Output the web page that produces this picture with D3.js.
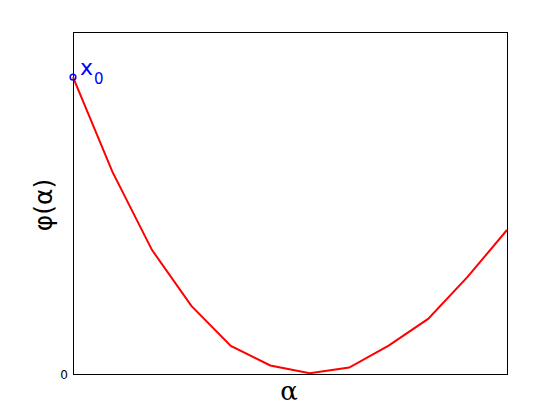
<!doctype html>
<html>
<head>
  <script src="https://d3js.org/d3.v7.min.js"></script>
  <style>
    body { margin: 0; background: #fff; }
  </style>
</head>
<body>
<script>
  // data: sampled alpha steps and phi(alpha) values (phi(0)=0 at the bottom)
  var alphaSteps = [0, 1, 2, 3, 4, 5, 6, 7, 8, 9, 10, 11];
  var phiValues = [0.868, 0.591, 0.363, 0.199, 0.082, 0.025, 0.002, 0.019, 0.083, 0.161, 0.284, 0.421];
  var yTicks = [0];
  var startPoint = [{a: 0, phi: 0.868}];

  var width = 560, height = 420;
  var margin = {left: 73, top: 32, right: 53, bottom: 46};

  var svg = d3.select("body").append("svg")
    .attr("width", width)
    .attr("height", height);

  var x = d3.scaleLinear().domain([0, 11]).range([margin.left, width - margin.right]);
  var y = d3.scaleLinear().domain([0, 1]).range([height - margin.bottom, margin.top]);

  // frame
  svg.append("rect")
    .attr("x", x(0)).attr("y", y(1))
    .attr("width", x(11) - x(0)).attr("height", y(0) - y(1))
    .attr("fill", "none").attr("stroke", "#000").attr("stroke-width", 1)
    .attr("shape-rendering", "crispEdges");

  // y axis with single "0" tick label
  var yAxis = d3.axisLeft(y).tickValues(yTicks).tickFormat(d3.format("d")).tickSize(0).tickPadding(5);
  svg.append("g")
    .attr("transform", "translate(" + x(0) + ",0)")
    .call(yAxis)
    .call(function(g) { g.select(".domain").remove(); })
    .selectAll("text")
      .attr("font-family", "DejaVu Sans, sans-serif")
      .attr("font-size", 12)
      .attr("dy", "0.4em");

  // curve
  var line = d3.line()
    .x(function(d, i) { return x(alphaSteps[i]); })
    .y(function(d) { return y(d); });

  svg.append("path")
    .datum(phiValues)
    .attr("d", line)
    .attr("fill", "none")
    .attr("stroke", "#ff0000")
    .attr("stroke-width", 2);

  // start marker x0
  svg.selectAll(".start")
    .data(startPoint)
    .enter().append("circle")
      .attr("class", "start")
      .attr("cx", function(d) { return x(d.a); })
      .attr("cy", function(d) { return y(d.phi); })
      .attr("r", 2.8)
      .attr("fill", "none")
      .attr("stroke", "#0000ff")
      .attr("stroke-width", 1.5);

  var lbl = svg.append("text")
    .attr("x", x(0) + 7)
    .attr("y", y(startPoint[0].phi) - 2)
    .attr("fill", "#0000ff")
    .attr("font-family", "DejaVu Sans, sans-serif")
    .attr("font-size", 22);
  lbl.append("tspan").text("x");
  lbl.append("tspan").attr("font-size", 15).attr("dx", 1).attr("dy", 9).text("0");

  // axis labels
  svg.append("text")
    .attr("x", 289).attr("y", 400)
    .attr("text-anchor", "middle")
    .attr("font-family", "DejaVu Serif, serif")
    .attr("font-size", 26)
    .text("α");

  svg.append("text")
    .attr("transform", "translate(52," + 205 + ") rotate(-90)")
    .attr("text-anchor", "middle")
    .attr("font-family", "DejaVu Sans, sans-serif")
    .attr("font-size", 25)
    .text("φ(α)");
</script>
</body>
</html>
